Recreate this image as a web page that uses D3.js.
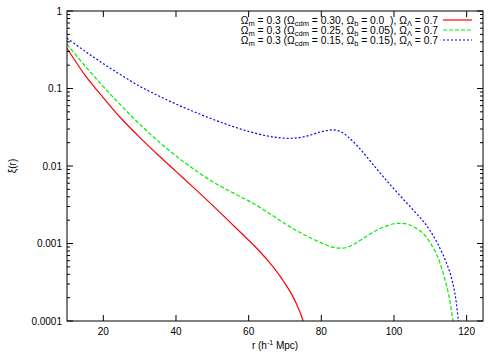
<!DOCTYPE html>
<meta charset="utf-8">
<style>
  body { margin: 0; background: #fff; }
  text { font-family: "Liberation Sans", Arial, sans-serif; }
</style>
<svg width="500" height="354"></svg>
<script src="https://d3js.org/d3.v7.min.js"></script>
<script>
// r in h^-1 Mpc, xi(r) values
const rRed   = [10, 15, 20, 25, 30, 35, 40, 45, 50, 55, 60, 63, 66, 68, 70, 72, 74, 75];
const xiRed  = [0.331, 0.148, 0.0759, 0.0407, 0.0234, 0.01396, 0.00851, 0.00519, 0.00313, 0.00186,
                0.0011, 0.000794, 0.00055, 0.000417, 0.000305, 0.000214, 0.000135, 0.0001];

const rGreen  = [10, 15, 20, 25, 30, 35, 40, 45, 50, 55, 60, 65, 70, 75, 80, 83, 85, 87, 89, 91,
                 94, 97, 100, 102, 104, 106, 108, 110, 112, 113.5, 115, 116, 116.3];
const xiGreen = [0.372, 0.195, 0.106, 0.0596, 0.0347, 0.0211, 0.0135, 0.00902, 0.0063, 0.00468,
                 0.00355, 0.00257, 0.0018, 0.00132, 0.00102, 0.0009, 0.00087, 0.00089, 0.00098, 0.00112,
                 0.00138, 0.00162, 0.0018, 0.00182, 0.00176, 0.00158, 0.00135, 0.00102, 0.00068, 0.000417,
                 0.000224, 0.00012, 0.0001];

const rBlue  = [10, 15, 20, 25, 30, 35, 40, 45, 50, 55, 60, 65, 68, 72, 76, 80, 83.3, 85.5, 87.5, 90,
                93, 96, 99, 102, 105, 108, 110, 112, 114, 115.5, 116.5, 117.2, 117.7];
const xiBlue = [0.445, 0.302, 0.209, 0.148, 0.107, 0.0813, 0.063, 0.0501, 0.0403, 0.0331,
                0.0279, 0.0245, 0.0233, 0.0228, 0.0243, 0.0277, 0.0292, 0.0275, 0.0234, 0.018,
                0.0123, 0.00832, 0.00569, 0.00398, 0.00279, 0.00195, 0.00145, 0.001, 0.00063, 0.000407,
                0.000263, 0.000166, 0.0001];

const xTicks = [20, 40, 60, 80, 100, 120];
const yTicks = [1, 0.1, 0.01, 0.001, 0.0001];
const yTickLabels = ["1", "0.1", "0.01", "0.001", "0.0001"];

const series = [
  {r: rRed,   xi: xiRed,   color: "#ff0000", dash: null,  label: ["0.30", "0.0  "]},
  {r: rGreen, xi: xiGreen, color: "#00ee00", dash: "4,2", label: ["0.25", "0.05"]},
  {r: rBlue,  xi: xiBlue,  color: "#0000ff", dash: "2,2", label: ["0.15", "0.15"]}
];

const margin = {top: 11, right: 17, bottom: 33, left: 67};
const width = 500, height = 354;

const x = d3.scaleLinear([10, 124.5], [margin.left, width - margin.right]);
const y = d3.scaleLog([0.0001, 1], [height - margin.bottom, margin.top]);

const svg = d3.select("svg");

// curves
const line = d3.line()
    .x(d => x(d[0]))
    .y(d => y(d[1]))
    .curve(d3.curveCatmullRom);

svg.append("defs").append("clipPath").attr("id", "clip")
  .append("rect")
    .attr("x", margin.left).attr("y", margin.top)
    .attr("width", x.range()[1] - margin.left)
    .attr("height", y.range()[0] - margin.top);

svg.append("g")
    .attr("clip-path", "url(#clip)")
    .attr("fill", "none")
  .selectAll("path")
  .data(series)
  .join("path")
    .attr("stroke", d => d.color)
    .attr("stroke-width", 1.2)
    .attr("stroke-dasharray", d => d.dash)
    .attr("d", d => line(d.r.map((r, i) => [r, d.xi[i]])));

// frame
const x0 = margin.left, x1 = width - margin.right;
const y0 = margin.top, y1 = height - margin.bottom;

svg.append("rect")
    .attr("x", x0).attr("y", y0)
    .attr("width", x1 - x0).attr("height", y1 - y0)
    .attr("fill", "none")
    .attr("stroke", "#000");

// x ticks (mirrored on top)
const xt = svg.append("g").attr("stroke", "#000");
xTicks.forEach(t => {
  xt.append("line").attr("x1", x(t)).attr("x2", x(t)).attr("y1", y1).attr("y2", y1 - 6);
  xt.append("line").attr("x1", x(t)).attr("x2", x(t)).attr("y1", y0).attr("y2", y0 + 6);
});
svg.append("g")
    .attr("font-size", 10)
    .attr("text-anchor", "middle")
  .selectAll("text")
  .data(xTicks)
  .join("text")
    .attr("x", d => x(d))
    .attr("y", y1 + 14)
    .text(d => d);

// y ticks, major and minor, both sides
const yt = svg.append("g").attr("stroke", "#000");
yTicks.forEach((t, i) => {
  [[x0, 1], [x1, -1]].forEach(([xx, s]) => {
    yt.append("line").attr("x1", xx).attr("x2", xx + s * 6).attr("y1", y(t)).attr("y2", y(t));
    if (i > 0) {
      for (let k = 2; k <= 9; k++) {
        const v = t * k;
        yt.append("line").attr("x1", xx).attr("x2", xx + s * 3).attr("y1", y(v)).attr("y2", y(v));
      }
    }
  });
});
svg.append("g")
    .attr("font-size", 10)
    .attr("text-anchor", "end")
  .selectAll("text")
  .data(yTicks)
  .join("text")
    .attr("x", x0 - 5)
    .attr("y", d => y(d))
    .attr("dy", "0.35em")
    .text((d, i) => yTickLabels[i]);

// axis labels
svg.append("text")
    .attr("font-size", 10)
    .attr("text-anchor", "middle")
    .attr("transform", `translate(16,${(y0 + y1) / 2}) rotate(-90)`)
    .text("ξ(r)");

const xl = svg.append("text")
    .attr("font-size", 10)
    .attr("text-anchor", "middle")
    .attr("x", (x0 + x1) / 2 + 0)
    .attr("y", 349);
xl.append("tspan").text("r (h");
xl.append("tspan").attr("font-size", 7).attr("dy", -4).text("-1");
xl.append("tspan").attr("dy", 4).text(" Mpc)");

// legend
const leg = svg.append("g").attr("font-size", 10.3);
series.forEach((s, i) => {
  const yy = 20 + i * 10;
  const t = leg.append("text")
      .attr("x", 438)
      .attr("y", yy + 3.5)
      .attr("text-anchor", "end")
      .style("white-space", "pre");
  const sub = (txt) => t.append("tspan").attr("font-size", 7.5).attr("dy", 2).text(txt);
  const back = (txt) => t.append("tspan").attr("dy", -2).text(txt);
  t.append("tspan").text("Ω");
  sub("m");
  back(" = 0.3 (Ω");
  sub("cdm");
  back(` = ${s.label[0]}, Ω`);
  sub("b");
  back(` = ${s.label[1]}), Ω`);
  sub("Λ");
  back(" = 0.7");
  leg.append("line")
      .attr("x1", 443).attr("x2", 472)
      .attr("y1", yy).attr("y2", yy)
      .attr("stroke", s.color)
      .attr("stroke-width", 1.2)
      .attr("stroke-dasharray", s.dash);
});
</script>
